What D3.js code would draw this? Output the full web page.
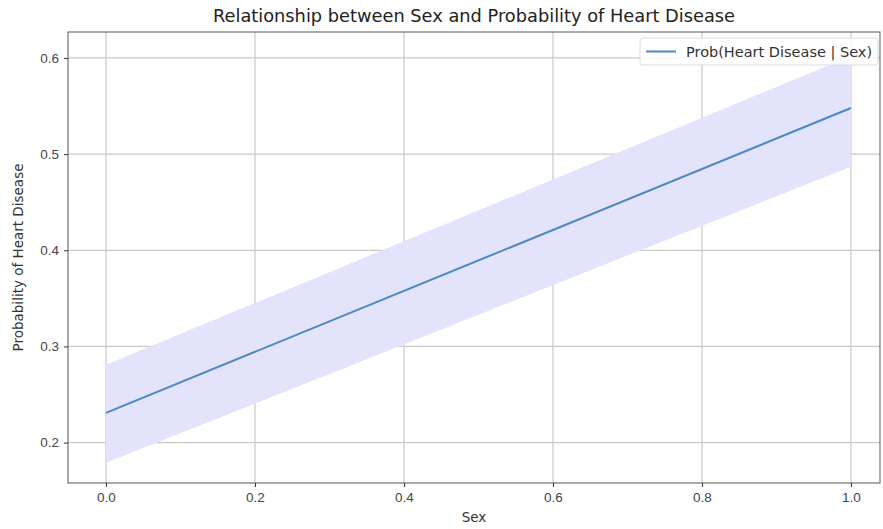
<!DOCTYPE html>
<html>
<head>
<meta charset="utf-8">
<script src="https://cdn.jsdelivr.net/npm/d3@7"></script>
<style>
  body { margin: 0; background: #fff; }
  svg { font-family: "DejaVu Sans", sans-serif; }
  .grid line { stroke: #c9c9c9; stroke-width: 1.2; }
  .axis path, .axis line { stroke: #333; }
  .axis text { fill: #444; font-size: 13.5px; }
</style>
</head>
<body>
<div id="chart"></div>
<script>
// values
const sexValues = [0.0, 1.0];
const probValues = [0.231, 0.548];
const lowerValues = [0.179, 0.487];
const upperValues = [0.281, 0.602];
const xTicks = [0.0, 0.2, 0.4, 0.6, 0.8, 1.0];
const yTicks = [0.2, 0.3, 0.4, 0.5, 0.6];

const width = 883, height = 529;
const margin = { left: 68, top: 32, right: 3, bottom: 46 };

const data = sexValues.map((s, i) => ({
  sex: s, prob: probValues[i], lo: lowerValues[i], hi: upperValues[i]
}));

const svg = d3.select('#chart').append('svg')
  .attr('width', width)
  .attr('height', height);

const x = d3.scaleLinear()
  .domain([-0.051, 1.039])
  .range([margin.left, width - margin.right]);
const y = d3.scaleLinear()
  .domain([0.158, 0.627])
  .range([height - margin.bottom, margin.top]);

// grid
const grid = svg.append('g').attr('class', 'grid');
grid.selectAll('line.v').data(xTicks).enter().append('line')
  .attr('x1', d => x(d)).attr('x2', d => x(d))
  .attr('y1', margin.top).attr('y2', height - margin.bottom);
grid.selectAll('line.h').data(yTicks).enter().append('line')
  .attr('y1', d => y(d)).attr('y2', d => y(d))
  .attr('x1', margin.left).attr('x2', width - margin.right);

// confidence band
const band = d3.area()
  .x(d => x(d.sex))
  .y0(d => y(d.lo))
  .y1(d => y(d.hi));
svg.append('path')
  .datum(data)
  .attr('d', band)
  .attr('fill', '#e3e3fb');

const line = d3.line()
  .x(d => x(d.sex))
  .y(d => y(d.prob));
svg.append('path')
  .datum(data)
  .attr('d', line)
  .attr('fill', 'none')
  .attr('stroke', '#4d88c4')
  .attr('stroke-width', 2);

// frame
svg.append('rect')
  .attr('x', margin.left).attr('y', margin.top)
  .attr('width', width - margin.right - margin.left)
  .attr('height', height - margin.bottom - margin.top)
  .attr('fill', 'none')
  .attr('stroke', '#555')
  .attr('stroke-width', 1);

const xAxis = d3.axisBottom(x).tickValues(xTicks).tickFormat(d3.format('.1f'))
  .tickSize(4).tickPadding(5).tickSizeOuter(0);
svg.append('g')
  .attr('class', 'x axis')
  .attr('transform', `translate(0,${height - margin.bottom})`)
  .call(xAxis)
  .call(g => g.select('.domain').remove());

const yAxis = d3.axisLeft(y).tickValues(yTicks).tickFormat(d3.format('.1f'))
  .tickSize(4).tickPadding(5).tickSizeOuter(0);
svg.append('g')
  .attr('class', 'y axis')
  .attr('transform', `translate(${margin.left},0)`)
  .call(yAxis)
  .call(g => g.select('.domain').remove());

// labels
svg.append('text')
  .attr('x', (margin.left + width - margin.right) / 2)
  .attr('y', 22)
  .attr('text-anchor', 'middle')
  .attr('font-size', '17.8px')
  .attr('fill', '#222')
  .text('Relationship between Sex and Probability of Heart Disease');

svg.append('text')
  .attr('x', (margin.left + width - margin.right) / 2)
  .attr('y', 522)
  .attr('text-anchor', 'middle')
  .attr('font-size', '13.5px')
  .attr('fill', '#333')
  .text('Sex');

svg.append('text')
  .attr('transform', `translate(23,${(margin.top + height - margin.bottom) / 2}) rotate(-90)`)
  .attr('text-anchor', 'middle')
  .attr('font-size', '13.5px')
  .attr('fill', '#333')
  .text('Probability of Heart Disease');

// legend
const legend = svg.append('g').attr('transform', 'translate(640,38)');
legend.append('rect')
  .attr('width', 238).attr('height', 27).attr('rx', 3)
  .attr('fill', 'rgba(255,255,255,0.85)')
  .attr('stroke', '#ddd');
legend.append('line')
  .attr('x1', 6).attr('x2', 36).attr('y1', 13.5).attr('y2', 13.5)
  .attr('stroke', '#4d88c4').attr('stroke-width', 2);
legend.append('text')
  .attr('x', 46).attr('y', 18.5)
  .attr('font-size', '14.5px')
  .attr('fill', '#333')
  .text('Prob(Heart Disease | Sex)');
</script>
</body>
</html>
